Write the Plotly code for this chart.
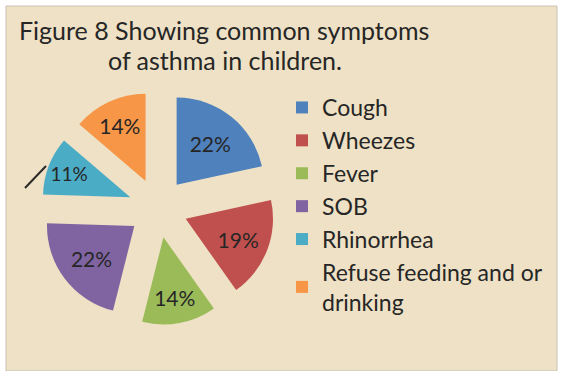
import plotly.graph_objects as go

labels = ["Cough", "Wheezes", "Fever", "SOB", "Rhinorrhea", "Refuse feeding and or<br>drinking"]
values = [22, 19, 14, 22, 11, 14]
colors = ["#4F81BD", "#C0504D", "#9BBB59", "#8064A2", "#4BACC6", "#F79646"]
title_lines = ["Figure 8 Showing common symptoms", "of asthma in children."]

W, H = 563, 371
FONT = "Lato, Carlito, 'Liberation Sans', sans-serif"
TXT = "#262626"

fig = go.Figure(go.Pie(
    labels=labels,
    values=values,
    marker=dict(colors=colors, line=dict(width=0)),
    sort=False,
    direction="clockwise",
    rotation=0,
    pull=[0.34] * len(values),
    texttemplate="%{percent:.0%}",
    textposition="inside",
    insidetextorientation="horizontal",
    textfont=dict(family=FONT, size=21, color=TXT),
    domain=dict(x=[41 / W, 275 / W], y=[(H - 325) / H, (H - 91) / H]),
    hoverinfo="label+percent",
))

fig.update_layout(
    width=W, height=H,
    margin=dict(l=0, r=0, t=0, b=0),
    paper_bgcolor="white",
    plot_bgcolor="rgba(0,0,0,0)",
    font=dict(family=FONT, color=TXT),
    showlegend=True,
    legend=dict(
        x=282 / W, y=1 - 86 / H, xanchor="left", yanchor="top",
        font=dict(family=FONT, size=23, color=TXT),
        bgcolor="rgba(0,0,0,0)",
        itemwidth=30,
    ),
    shapes=[
        dict(type="rect", xref="paper", yref="paper",
             x0=6 / W, x1=557 / W, y0=0, y1=1 - 6 / H,
             fillcolor="#EEE1C5", line=dict(color="#C9C2B4", width=1), layer="below"),
        dict(type="line", xref="paper", yref="paper",
             x0=25 / W, y0=1 - 188 / H, x1=46 / W, y1=1 - 166 / H,
             line=dict(color="#2a2a2a", width=2), layer="below"),
    ],
    annotations=[
        dict(text=title_lines[0], xref="paper", yref="paper",
             x=224 / W, y=1 - 30 / H, xanchor="center", yanchor="middle",
             showarrow=False, font=dict(family=FONT, size=25, color=TXT)),
        dict(text=title_lines[1], xref="paper", yref="paper",
             x=225 / W, y=1 - 60 / H, xanchor="center", yanchor="middle",
             showarrow=False, font=dict(family=FONT, size=25, color=TXT)),
    ],
)

fig.write_html("out.html")
